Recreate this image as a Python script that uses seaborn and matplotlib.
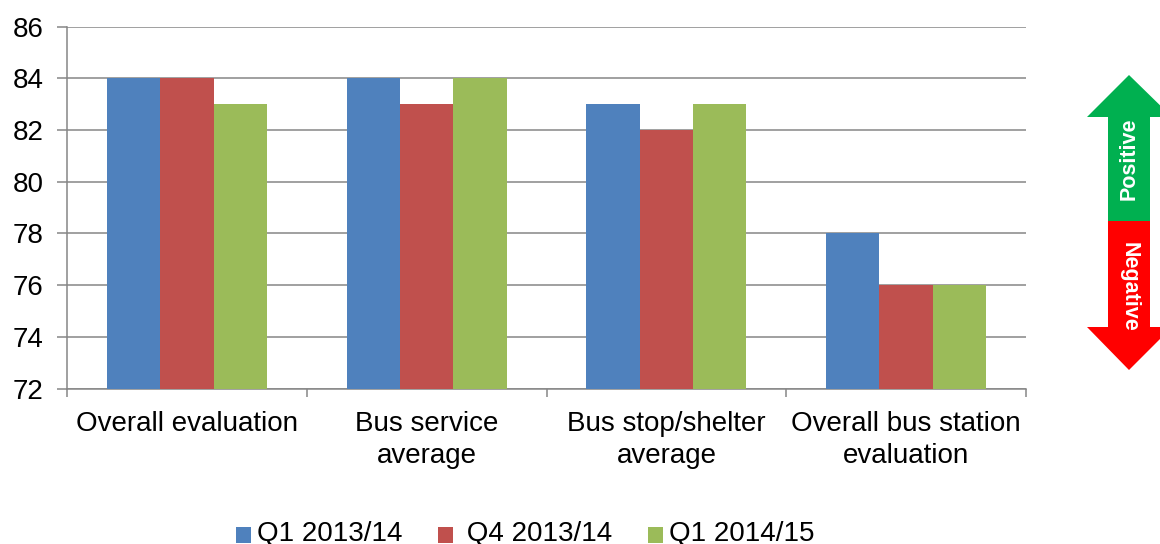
import matplotlib
matplotlib.use("Agg")
import matplotlib.pyplot as plt
from matplotlib.patches import Polygon
from matplotlib.transforms import Affine2D
import pandas as pd
import seaborn as sns

categories = ["Overall evaluation", "Bus service\naverage", "Bus stop/shelter\naverage",
              "Overall bus station\nevaluation"]
q1_1314 = [84, 84, 83, 78]
q4_1314 = [84, 83, 82, 76]
q1_1415 = [83, 84, 83, 76]
series_names = ["Q1 2013/14", "Q4 2013/14", "Q1 2014/15"]
legend_labels = ["Q1 2013/14", " Q4 2013/14", "Q1 2014/15"]
colors = ["#4F81BD", "#C0504D", "#9BBB59"]
y_ticks = [72, 74, 76, 78, 80, 82, 84, 86]

df = pd.DataFrame({
    "category": categories * 3,
    "value": q1_1314 + q4_1314 + q1_1415,
    "series": [s for s in series_names for _ in categories],
})

sns.set_theme(style="white")
plt.rcParams["font.family"] = ["Liberation Sans", "DejaVu Sans"]
W, H = 1160, 544
fig = plt.figure(figsize=(W / 100, H / 100), dpi=100)
ax = fig.add_axes([67 / W, (H - 388.6) / H, (1026 - 67) / W, (388.6 - 26.6) / H])
GRAY = "#868686"

sns.barplot(data=df, x="category", y="value", hue="series", palette=colors, saturation=1,
            width=2 / 3, gap=0, dodge=True, linewidth=0, ax=ax, legend=False, zorder=3)

ax.set_xlim(-0.5, 3.5)
ax.set_ylim(72, 86)
ax.set_yticks(y_ticks)
ax.set_xlabel("")
ax.set_ylabel("")
ax.set_axisbelow(True)
ax.grid(axis="y", color=GRAY, linewidth=1.1)
ax.grid(axis="x", visible=False)
for side in ["top", "right"]:
    ax.spines[side].set_visible(False)
for side in ["left", "bottom"]:
    ax.spines[side].set_color(GRAY)
    ax.spines[side].set_linewidth(1.1)
ax.set_xticks([-0.5, 0.5, 1.5, 2.5, 3.5], minor=True)
ax.tick_params(axis="x", which="major", bottom=False, length=0, pad=16.2, labelsize=20, labelcolor="black")
ax.tick_params(axis="x", which="minor", bottom=True, length=6, width=1.1, color=GRAY)
ax.tick_params(axis="y", left=True, length=7, width=1.1, color=GRAY, labelsize=20, labelcolor="black", pad=10)
for lab in ax.get_xticklabels():
    lab.set_linespacing(1.28)

handles = [plt.Rectangle((0, 0), 1, 1, color=c, linewidth=0) for c in colors]
leg = fig.legend(handles, legend_labels, ncol=3, frameon=False, fontsize=20,
                 loc="center left", bbox_to_anchor=(236 / W, (H - 534.5) / H), borderpad=0, borderaxespad=0,
                 handlelength=0.54, handleheight=0.54, handletextpad=0.22, columnspacing=1.27, labelcolor="black")
for patch in leg.get_patches():
    patch.set_y(patch.get_y() - 2.5)

px = Affine2D().scale(1, -1).translate(0, H)
green = [(1129, 75), (1172, 117), (1150, 117), (1150, 221), (1108, 221), (1108, 117), (1087, 117)]
red = [(1108, 221), (1150, 221), (1150, 327), (1172, 327), (1129, 370), (1087, 327), (1108, 327)]
fig.add_artist(Polygon(green, closed=True, facecolor="#00B050", edgecolor="none", transform=px))
fig.add_artist(Polygon(red, closed=True, facecolor="#FF0000", edgecolor="none", transform=px))
fig.text(1129 / W, (H - 159) / H, "Positive", rotation=90, color="white", fontweight="bold",
         fontsize=15.5, ha="center", va="center")
fig.text(1129 / W, (H - 287) / H, "Negative", rotation=-90, color="white", fontweight="bold",
         fontsize=15.5, ha="center", va="center")

fig.savefig("out.png", dpi=100)
